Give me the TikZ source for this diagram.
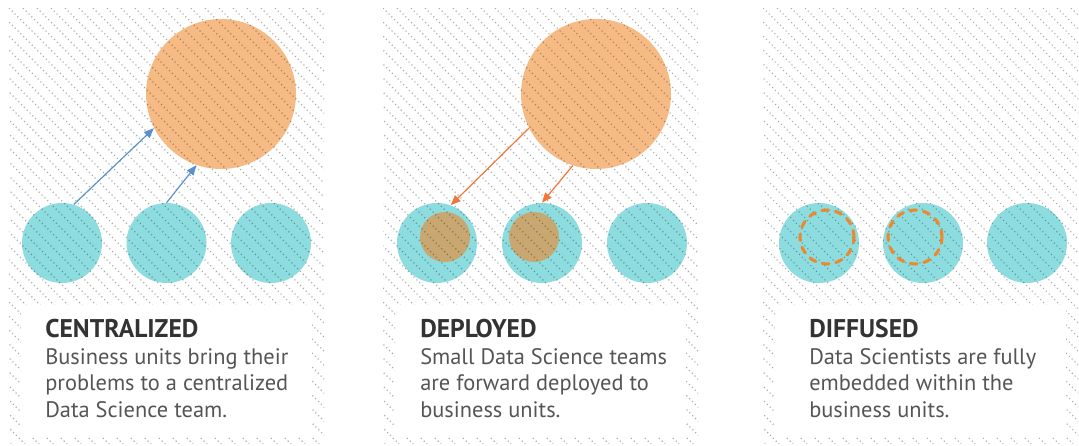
\documentclass[tikz,border=0pt]{standalone}
\usepackage{fontspec}
\setmainfont{PT Sans}
\usetikzlibrary{arrows.meta}
\definecolor{unitcol}{RGB}{141,220,223}
\definecolor{teamcol}{RGB}{246,186,132}
\definecolor{podcol}{RGB}{200,168,112}
\definecolor{bluearr}{RGB}{88,144,210}
\definecolor{orangearr}{RGB}{242,118,58}
\definecolor{dashcol}{RGB}{238,136,44}
\definecolor{titlecol}{RGB}{51,51,51}
\definecolor{bodycol}{RGB}{85,85,85}

\begin{document}
\begin{tikzpicture}[x=0.75pt,y=-0.75pt,
  unit/.style={circle,fill=unitcol,minimum size=60pt,inner sep=0},
  team/.style={circle,fill=teamcol,minimum size=112.5pt,inner sep=0},
  pod/.style={circle,fill=podcol,minimum size=37.5pt,inner sep=0},
  embed/.style={circle,draw=dashcol,line width=2.3pt,line cap=round,dash pattern=on 5pt off 5.2pt,minimum size=40.5pt,inner sep=0},
  hatch/.style={black,opacity=0.34,line width=0.8pt,dash pattern=on 0.8pt off 2.2pt},
  link/.style={line width=0.9pt,-{Triangle[length=7.5pt,width=6pt]}},
  caption/.style={align=left,inner sep=0,text=bodycol,font=\fontsize{16.8}{19.8}\selectfont}]

\useasboundingbox (0,0) rectangle (1079,446);

\node[team] (dc1) at (221,94) {};
\node[unit] (u11) at (62,243) {};
\node[unit] (u12) at (166.5,243) {};
\node[unit] (u13) at (271,243) {};

\node[team] (dc2) at (596,94) {};
\node[unit] (u21) at (437,243) {};
\node[unit] (u22) at (542,243) {};
\node[unit] (u23) at (647,243) {};
\node[pod] (s21) at (445,237) {};
\node[pod] (s22) at (534,237) {};

\node[unit] (u31) at (819,243) {};
\node[unit] (u32) at (923,243) {};
\node[unit] (u33) at (1027,243) {};

\foreach \px in {9,383,763} {
  \begin{scope}
    \clip (\px,8) rectangle ++(315,435);
    \foreach \k in {-32,...,23}
      \draw[hatch] (\px+\k*14,8) -- ++(450,450);
  \end{scope}
  \fill[white] (\px+12,305) rectangle (\px+303,436);
}

\node[embed] (e31) at (827,237) {};
\node[embed] (e32) at (915,237) {};

\draw[link,bluearr] (u11.73) -- (dc1.207);
\draw[link,bluearr] (u12.90) -- (dc1.251);
\draw[link,orangearr] (dc2.207) -- (u21.70);
\draw[link,orangearr] (dc2.252) -- (u22.90);

\node[caption,anchor=base west] (t1) at (45,417)
  {{\color{titlecol}\fontsize{19.2}{19.8}\selectfont\bfseries CENTRALIZED}\\
   Business units bring their\\ problems to a centralized\\ Data Science team.};
\node[caption,anchor=base west] (t2) at (420,417)
  {{\color{titlecol}\fontsize{19.2}{19.8}\selectfont\bfseries DEPLOYED}\\
   Small Data Science teams\\ are forward deployed to\\ business units.};
\node[caption,anchor=base west] (t3) at (809,417)
  {{\color{titlecol}\fontsize{19.2}{19.8}\selectfont\bfseries DIFFUSED}\\
   Data Scientists are fully\\ embedded within the\\ business units.};

\end{tikzpicture}
\end{document}
